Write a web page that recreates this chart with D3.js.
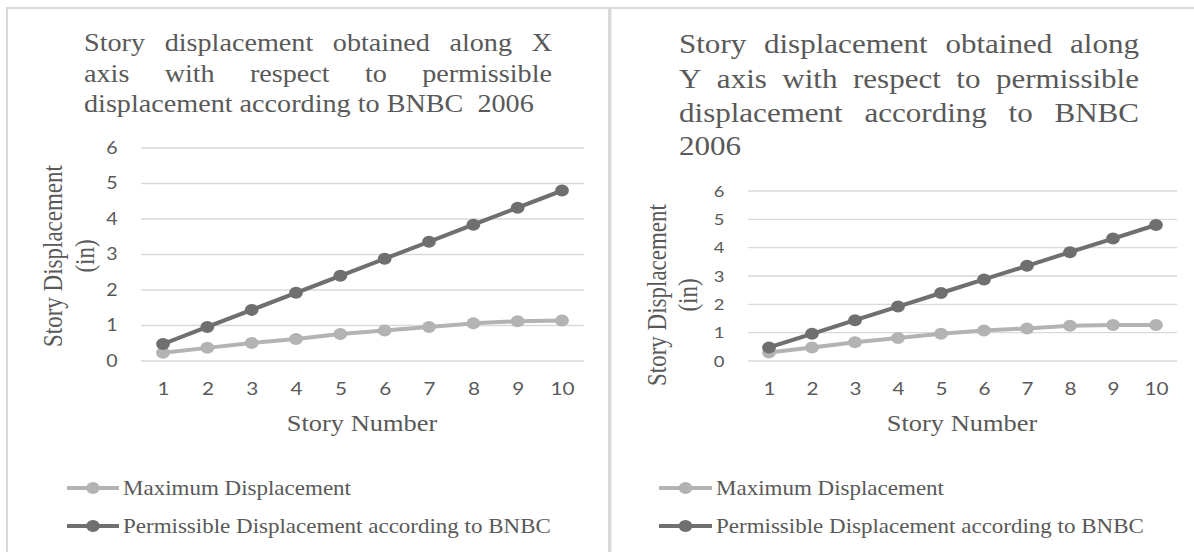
<!DOCTYPE html>
<html>
<head>
<meta charset="utf-8">
<script src="https://cdnjs.cloudflare.com/ajax/libs/d3/7.8.5/d3.min.js"></script>
<style>
  body { margin: 0; background: #fff; }
  svg { display: block; }
</style>
</head>
<body>
<svg id="chart" width="1194" height="552"></svg>
<script>
// x axis: story numbers, y axis ticks
var stories = [1, 2, 3, 4, 5, 6, 7, 8, 9, 10];
var yTicks = [0, 1, 2, 3, 4, 5, 6];

// displacement along X (in)
var maxDispX  = [0.23, 0.37, 0.51, 0.62, 0.76, 0.86, 0.96, 1.06, 1.12, 1.14];
var permDispX = [0.48, 0.96, 1.44, 1.92, 2.40, 2.88, 3.36, 3.84, 4.32, 4.80];

// displacement along Y (in)
var maxDispY  = [0.30, 0.48, 0.66, 0.81, 0.96, 1.08, 1.15, 1.24, 1.27, 1.27];
var permDispY = [0.48, 0.96, 1.44, 1.92, 2.40, 2.88, 3.36, 3.84, 4.32, 4.80];

var seriesNames = ['Maximum Displacement', 'Permissible Displacement according to BNBC'];
var titleX = ['Story displacement obtained along X', 'axis with respect to permissible', 'displacement according to BNBC\u00a0 2006'];
var titleY = ['Story displacement obtained along', 'Y axis with respect to permissible', 'displacement according to BNBC', '2006'];

var SX = 1.15;           // source picture is stretched sideways a bit
var serif = '"Liberation Serif", "Times New Roman", serif';
var sans = 'Lato, "Open Sans", sans-serif';
var textCol = '#595959';
var gridCol = '#d9d9d9';
var colMax = '#b3b3b3';
var colPerm = '#6f6f6f';

var svg = d3.select('#chart');
svg.append('rect').attr('width', 1194).attr('height', 552).attr('fill', '#fff');

// frame lines (screen coords)
svg.append('rect').attr('x', 6).attr('y', 7).attr('width', 1188).attr('height', 2).attr('fill', gridCol);
svg.append('rect').attr('x', 6).attr('y', 7).attr('width', 2).attr('height', 545).attr('fill', gridCol);
svg.append('rect').attr('x', 608).attr('y', 7).attr('width', 3.5).attr('height', 545).attr('fill', gridCol);

var root = svg.append('g').attr('transform', 'scale(' + SX + ',1)');
function nx(x) { return x / SX; }

function drawTitle(g, lines, justify, left, right, bases, size) {
  lines.forEach(function(line, i) {
    if (!justify[i]) {
      g.append('text')
        .attr('x', nx(left)).attr('y', bases[i])
        .attr('font-family', serif).attr('font-size', size)
        .attr('fill', textCol).style('white-space', 'pre')
        .text(line);
      return;
    }
    var words = line.split(' ');
    var nodes = words.map(function(w) {
      return g.append('text')
        .attr('y', bases[i])
        .attr('font-family', serif).attr('font-size', size)
        .attr('fill', textCol).text(w);
    });
    var widths = nodes.map(function(n) { return n.node().getComputedTextLength(); });
    var total = d3.sum(widths);
    var gap = (nx(right) - nx(left) - total) / (words.length - 1);
    var cx = nx(left);
    nodes.forEach(function(n, k) {
      n.attr('x', cx);
      cx += widths[k] + gap;
    });
  });
}

function drawPanel(opt) {
  var g = root.append('g');

  drawTitle(g, opt.title, opt.justify, opt.titleLeft, opt.titleRight, opt.titleBase, opt.titleSize);

  var x = d3.scaleLinear().domain([1, 10]).range([nx(opt.xRange[0]), nx(opt.xRange[1])]);
  var y = d3.scaleLinear().domain([0, 6]).range(opt.yRange);

  // gridlines
  g.append('g').selectAll('line').data(yTicks).enter().append('line')
    .attr('x1', nx(opt.grid[0])).attr('x2', nx(opt.grid[1]))
    .attr('y1', function(d) { return y(d); }).attr('y2', function(d) { return y(d); })
    .attr('stroke', gridCol).attr('stroke-width', 1.3);

  // y axis labels
  var yAxis = d3.axisLeft(y).tickValues(yTicks).tickSize(0).tickPadding(0).tickFormat(d3.format('d'));
  var ya = g.append('g').attr('transform', 'translate(' + nx(opt.tickX) + ',0)').call(yAxis);
  ya.select('.domain').remove();
  ya.selectAll('text').attr('text-anchor', 'middle').attr('x', 0)
    .attr('font-family', sans).attr('font-size', opt.tickSize).attr('fill', textCol);

  // x axis labels
  var xAxis = d3.axisBottom(x).tickValues(stories).tickSize(0).tickPadding(0).tickFormat(d3.format('d'));
  var xa = g.append('g').attr('transform', 'translate(0,' + opt.xLabY + ')').call(xAxis);
  xa.select('.domain').remove();
  xa.selectAll('text').attr('y', 0).attr('dy', '0.35em')
    .attr('font-family', sans).attr('font-size', opt.xTickSize).attr('fill', textCol);

  // axis titles
  g.append('text').attr('x', nx(opt.xTitle[0])).attr('y', opt.xTitle[1]).attr('dy', '0.33em')
    .attr('text-anchor', 'middle').attr('font-family', serif).attr('font-size', 23)
    .attr('fill', textCol).text('Story Number');

  var yt = g.append('g').attr('transform', 'translate(0,' + opt.yTitleMid + ') rotate(-90)');
  yt.append('text').attr('x', 0).attr('y', nx(opt.yTitleBase[0])).attr('text-anchor', 'middle')
    .attr('font-family', serif).attr('font-size', 23).attr('fill', textCol).text('Story Displacement');
  yt.append('text').attr('x', 0).attr('y', nx(opt.yTitleBase[1])).attr('text-anchor', 'middle')
    .attr('font-family', serif).attr('font-size', 23).attr('fill', textCol).text('(in)');

  // series
  var line = d3.line()
    .x(function(d, i) { return x(stories[i]); })
    .y(function(d) { return y(d); });
  var series = [{v: opt.maxVals, c: colMax}, {v: opt.permVals, c: colPerm}];
  series.forEach(function(s) {
    g.append('path').datum(s.v).attr('d', line)
      .attr('fill', 'none').attr('stroke', s.c).attr('stroke-width', 4).attr('stroke-linejoin', 'round');
    g.append('g').selectAll('circle').data(s.v).enter().append('circle')
      .attr('cx', function(d, i) { return x(stories[i]); })
      .attr('cy', function(d) { return y(d); })
      .attr('r', 6).attr('fill', s.c);
  });

  // legend
  var lg = g.append('g');
  [colMax, colPerm].forEach(function(c, i) {
    var ly = opt.legendY[i];
    lg.append('line').attr('x1', nx(opt.legendX[0])).attr('x2', nx(opt.legendX[1]))
      .attr('y1', ly).attr('y2', ly).attr('stroke', c).attr('stroke-width', 4);
    lg.append('circle').attr('cx', nx((opt.legendX[0] + opt.legendX[1]) / 2)).attr('cy', ly)
      .attr('r', 6).attr('fill', c);
    lg.append('text').attr('x', nx(opt.legendX[1] + 4)).attr('y', ly).attr('dy', '0.33em')
      .attr('font-family', serif).attr('font-size', 20).attr('fill', textCol).text(seriesNames[i]);
  });
}

drawPanel({
  title: titleX, justify: [true, true, false],
  titleLeft: 84, titleRight: 552, titleBase: [51, 82, 112], titleSize: 24.5,
  xRange: [163, 562], grid: [141, 584], yRange: [361, 148],
  tickX: 112, tickSize: 17, xTickSize: 18, xLabY: 389,
  xTitle: [362, 423], yTitleMid: 256, yTitleBase: [62, 94],
  maxVals: maxDispX, permVals: permDispX,
  legendX: [67, 119], legendY: [488, 526]
});

drawPanel({
  title: titleY, justify: [true, true, true, false],
  titleLeft: 679, titleRight: 1139, titleBase: [53, 88, 122, 155], titleSize: 27,
  xRange: [769, 1156], grid: [748, 1177], yRange: [361, 191],
  tickX: 719, tickSize: 16, xTickSize: 18, xLabY: 389,
  xTitle: [962, 423], yTitleMid: 295, yTitleBase: [666, 697],
  maxVals: maxDispY, permVals: permDispY,
  legendX: [659, 712], legendY: [488, 526]
});
</script>
</body>
</html>
